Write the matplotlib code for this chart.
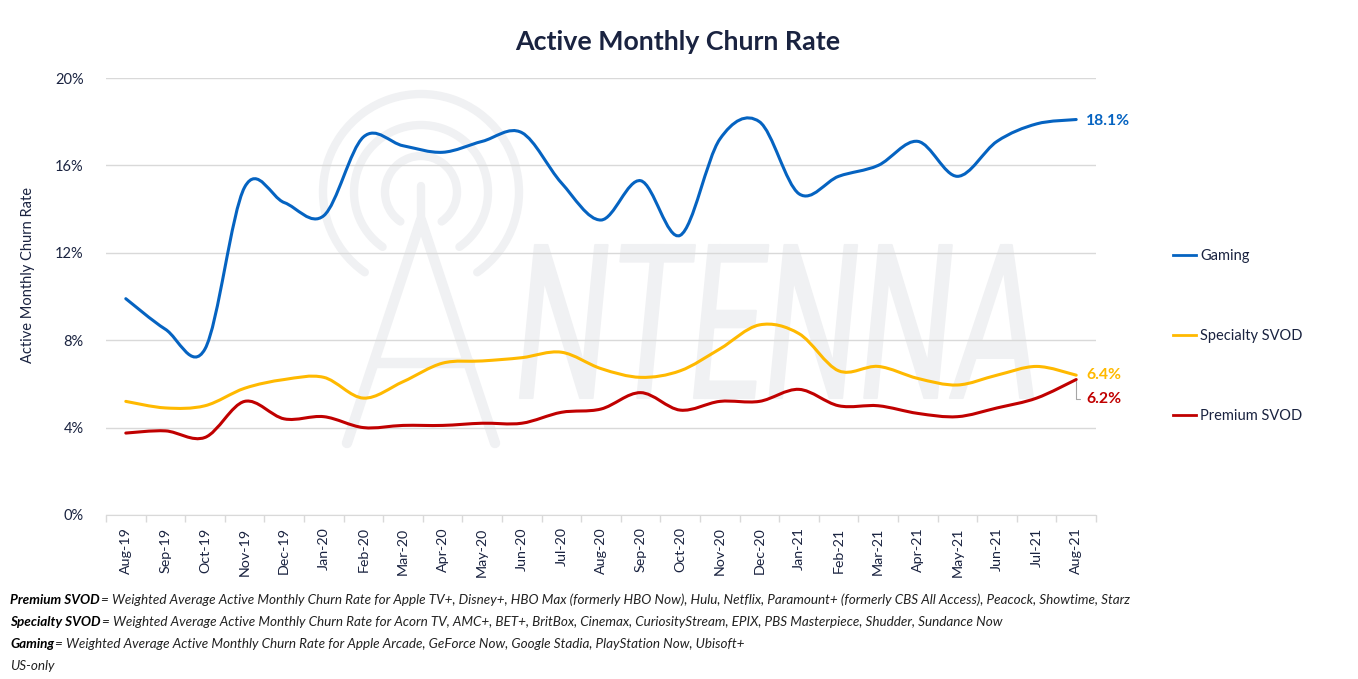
import numpy as np
import matplotlib
matplotlib.use("Agg")
import matplotlib.pyplot as plt
from matplotlib.path import Path
from matplotlib.patches import PathPatch, Arc
from matplotlib.lines import Line2D
from matplotlib.textpath import TextPath
from matplotlib.font_manager import FontProperties
from matplotlib.transforms import Affine2D
from matplotlib.ticker import FuncFormatter

plt.rcParams['font.family'] = ['Lato', 'DejaVu Sans']

# --- dane ---
months = ['Aug-19', 'Sep-19', 'Oct-19', 'Nov-19', 'Dec-19', 'Jan-20', 'Feb-20', 'Mar-20',
          'Apr-20', 'May-20', 'Jun-20', 'Jul-20', 'Aug-20', 'Sep-20', 'Oct-20', 'Nov-20',
          'Dec-20', 'Jan-21', 'Feb-21', 'Mar-21', 'Apr-21', 'May-21', 'Jun-21', 'Jul-21',
          'Aug-21']
gaming = [9.9, 8.5, 7.6, 15.0, 14.3, 13.7, 17.3, 16.9, 16.6, 17.1, 17.5, 15.2, 13.5,
          15.3, 12.8, 17.2, 18.0, 14.7, 15.5, 16.0, 17.1, 15.5, 17.1, 17.9, 18.1]
specialty = [5.2, 4.9, 5.0, 5.8, 6.2, 6.3, 5.35, 6.1, 6.95, 7.05, 7.2, 7.45, 6.7,
             6.3, 6.6, 7.6, 8.7, 8.3, 6.6, 6.8, 6.25, 5.95, 6.4, 6.8, 6.4]
premium = [3.75, 3.85, 3.55, 5.2, 4.4, 4.5, 4.0, 4.1, 4.1, 4.2, 4.2, 4.7, 4.85,
           5.6, 4.8, 5.2, 5.2, 5.75, 5.0, 5.0, 4.65, 4.5, 4.9, 5.35, 6.2]

series_names = ['Gaming', 'Specialty SVOD', 'Premium SVOD']
series_colors = ['#0563c1', '#ffb900', '#c00000']
end_labels = ['18.1%', '6.4%', '6.2%']

footnotes = [
    ('Premium SVOD', '= Weighted Average Active Monthly Churn Rate for Apple TV+, Disney+, HBO Max (formerly HBO Now), Hulu, Netflix, Paramount+ (formerly CBS All Access), Peacock, Showtime, Starz'),
    ('Specialty SVOD', '= Weighted Average Active Monthly Churn Rate for Acorn TV, AMC+, BET+, BritBox, Cinemax, CuriosityStream, EPIX, PBS Masterpiece, Shudder, Sundance Now'),
    ('Gaming', '= Weighted Average Active Monthly Churn Rate for Apple Arcade, GeForce Now, Google Stadia, PlayStation Now, Ubisoft+'),
    ('', 'US-only'),
]

navy = '#1a2340'
grid_c = '#d9d9d9'
wm_c = '#f0f1f3'


def smooth_path(y):
    """Wygładzona krzywa (Catmull-Rom -> Bezier) przez punkty danych"""
    x = np.arange(len(y), dtype=float)
    y = np.asarray(y, dtype=float)
    verts = [(x[0], y[0])]
    codes = [Path.MOVETO]
    n = len(y)
    for i in range(n - 1):
        i0 = max(i - 1, 0)
        i3 = min(i + 2, n - 1)
        c1 = (x[i] + (x[i + 1] - x[i0]) / 6, y[i] + (y[i + 1] - y[i0]) / 6)
        c2 = (x[i + 1] - (x[i3] - x[i]) / 6, y[i + 1] - (y[i3] - y[i]) / 6)
        verts += [c1, c2, (x[i + 1], y[i + 1])]
        codes += [Path.CURVE4] * 3
    return Path(verts, codes)


W, H = 1358, 679
fig = plt.figure(figsize=(W / 100, H / 100), dpi=100)

# --- znak wodny (tło) ---
bg = fig.add_axes([0, 0, 1, 1], zorder=0)
bg.set_xlim(0, W)
bg.set_ylim(H, 0)
bg.axis('off')
cx, cy = 421, 192
for r in [36, 67, 98]:
    bg.add_patch(Arc((cx, cy), 2 * r, 2 * r, theta1=125, theta2=415,
                     color=wm_c, lw=6, capstyle='round'))
bg.plot([cx, cx], [186, 222], color=wm_c, lw=6, solid_capstyle='round')
bg.plot([347, cx, 495], [443, 220, 443], color=wm_c, lw=7.5,
        solid_capstyle='round', solid_joinstyle='round')
bg.plot([376, 470], [363, 363], color=wm_c, lw=7.5, solid_capstyle='round')

tp = TextPath((0, 0), 'NTENNA', size=100, prop=FontProperties(family='Roboto', weight='normal'))
tr = Affine2D().skew_deg(9, 0)
p1 = tr.transform_path(tp)
bb = p1.get_extents()
sx = (1033 - 520) / bb.width
sy = (398 - 245) / bb.height
tr2 = Affine2D().translate(-bb.x0, -bb.y0).scale(sx, -sy).translate(520, 398)
bg.add_patch(PathPatch(tr2.transform_path(p1), facecolor=wm_c, edgecolor=wm_c,
                       lw=1.5, joinstyle='round'))

# --- wykres główny ---
ax = fig.add_axes([106 / W, 1 - 515 / H, 990 / W, 437 / H], zorder=1)
ax.set_facecolor('none')
x = np.arange(len(months))

for vals, name, col in zip([gaming, specialty, premium], series_names, series_colors):
    ax.add_patch(PathPatch(smooth_path(vals), facecolor='none', edgecolor=col,
                           lw=2.2, capstyle='round', zorder=3))

ax.set_xlim(-0.5, len(months) - 0.5)
ax.set_ylim(0, 20)
ax.set_yticks([0, 4, 8, 12, 16, 20])
ax.yaxis.set_major_formatter(FuncFormatter(lambda v, p: f'{v:.0f}%'))
ax.set_xticks(x)
ax.set_xticklabels(months, rotation=90)
ax.set_xticks(np.arange(-0.5, len(months), 1.0), minor=True)
ax.tick_params(axis='x', which='major', length=0, pad=9, labelsize=10.3, labelcolor=navy)
ax.tick_params(axis='x', which='minor', length=5, color=grid_c, width=1)
ax.tick_params(axis='y', length=0, pad=16, labelsize=10.5, labelcolor=navy)
ax.grid(axis='y', color=grid_c, lw=1)
ax.set_axisbelow(True)
for s in ['top', 'right', 'left']:
    ax.spines[s].set_visible(False)
ax.spines['bottom'].set_color(grid_c)

ax.set_ylabel('Active Monthly Churn Rate', fontsize=10.5, color=navy)
ax.yaxis.set_label_coords(-0.072, 0.55)

# etykiety końcowe
last = len(months) - 1
ax.annotate(end_labels[0], (last, gaming[-1]), xytext=(7, -1), textcoords='offset points',
            color=series_colors[0], fontsize=11.3, fontweight='bold', va='center')
ax.annotate(end_labels[1], (last, specialty[-1]), xytext=(7, 0), textcoords='offset points',
            color=series_colors[1], fontsize=11.3, fontweight='bold', va='center')
ax.annotate(end_labels[2], (last, premium[-1]), xytext=(7, -14), textcoords='offset points',
            color=series_colors[2], fontsize=11.3, fontweight='bold', va='center',
            arrowprops=dict(arrowstyle='-', color='#a6a6a6', lw=0.8,
                            connectionstyle='angle,angleA=0,angleB=90,rad=0',
                            shrinkA=2, shrinkB=1))

# legenda
handles = [Line2D([], [], color=c, lw=2) for c in series_colors]
fig.legend(handles, series_names, loc='center left', bbox_to_anchor=(1160 / W, 1 - 336 / H),
           frameon=False, fontsize=10.5, labelspacing=4.55, handlelength=1.6,
           handletextpad=0.25, labelcolor=navy)

# tytuł
fig.text(0.4993, 1 - 42 / H, 'Active Monthly Churn Rate', ha='center', va='center',
         fontsize=19.3, fontweight='bold', color=navy)

# przypisy
fig.canvas.draw()
renderer = fig.canvas.get_renderer()
for k, (bold, rest) in enumerate(footnotes):
    yk = 1 - (600 + 22 * k) / H
    x0 = 10 / W
    if bold:
        t = fig.text(x0, yk, bold, fontsize=9.7, fontstyle='italic', fontweight='bold',
                     color='black', va='center')
        x0 = t.get_window_extent(renderer).x1 / W + 0.001
    fig.text(x0, yk, rest, fontsize=9.7, fontstyle='italic', color='#222222', va='center')

fig.savefig('out.png', dpi=100, facecolor='white')
